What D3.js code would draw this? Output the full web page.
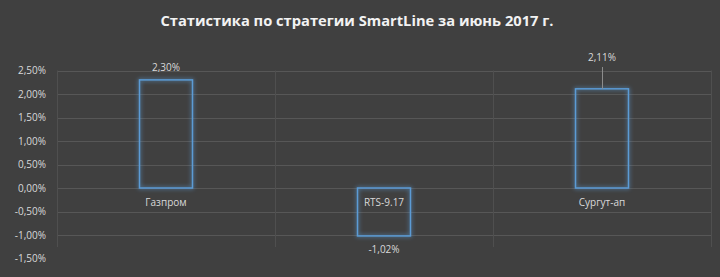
<!DOCTYPE html>
<html>
<head>
<meta charset="utf-8">
<script src="https://cdn.jsdelivr.net/npm/d3@7"></script>
<style>
  body { margin: 0; background: #404040; }
  svg { display: block; }
</style>
</head>
<body>
<div id="chart-area"></div>
<script>
var categories = ["Газпром", "RTS-9.17", "Сургут-ап"];
var values = [2.30, -1.02, 2.11];
var valueLabels = ["2,30%", "-1,02%", "2,11%"];
var yTicks = [2.5, 2.0, 1.5, 1.0, 0.5, 0.0, -0.5, -1.0, -1.5];
var yTickLabels = ["2,50%", "2,00%", "1,50%", "1,00%", "0,50%", "0,00%", "-0,50%", "-1,00%", "-1,50%"];

var width = 720;
var height = 277;
var plot = {left: 57, right: 711, top: 70.5, bottom: 247};

var svg = d3.select("#chart-area")
	.append("svg")
	.attr("width", width)
	.attr("height", height)
	.style("font-family", "'Open Sans', sans-serif");

svg.append("rect")
	.attr("width", width)
	.attr("height", height)
	.attr("fill", "#404040");

var defs = svg.append("defs");
var glow = defs.append("filter")
	.attr("id", "glow")
	.attr("x", "-30%").attr("y", "-30%")
	.attr("width", "160%").attr("height", "160%");
glow.append("feGaussianBlur")
	.attr("in", "SourceGraphic")
	.attr("stdDeviation", 2)
	.attr("result", "blur");
var merge = glow.append("feMerge");
merge.append("feMergeNode").attr("in", "blur");
merge.append("feMergeNode").attr("in", "SourceGraphic");

var x = d3.scaleBand()
	.domain(categories)
	.range([plot.left, plot.right])
	.paddingInner(0.757)
	.paddingOuter(0.3785);

var xOuter = d3.scaleBand()
	.domain(categories)
	.range([plot.left, plot.right])
	.padding(0);

var y = d3.scaleLinear()
	.domain([-1.5, 2.5])
	.range([258.5, 70.5]);

// title
svg.append("text")
	.attr("x", 357)
	.attr("y", 25.5)
	.attr("text-anchor", "middle")
	.attr("font-size", "14.7px")
	.attr("font-weight", "bold")
	.attr("fill", "#f2f2f2")
	.text("Статистика по стратегии SmartLine за июнь 2017 г.");

// horizontal gridlines
svg.append("g")
	.selectAll("line")
	.data(yTicks.filter(function(d) { return y(d) <= plot.bottom; }))
	.enter()
	.append("line")
	.attr("x1", plot.left)
	.attr("x2", plot.right)
	.attr("y1", function(d) { return Math.round(y(d)) + 0.5; })
	.attr("y2", function(d) { return Math.round(y(d)) + 0.5; })
	.attr("stroke", "#575757")
	.attr("stroke-width", 1);

// vertical gridlines at category boundaries
var bounds = categories.map(function(c) { return xOuter(c); }).concat([plot.right]);
svg.append("g")
	.selectAll("line")
	.data(bounds)
	.enter()
	.append("line")
	.attr("x1", function(d) { return Math.round(d) + 0.5; })
	.attr("x2", function(d) { return Math.round(d) + 0.5; })
	.attr("y1", plot.top)
	.attr("y2", plot.bottom)
	.attr("stroke", "#4f4f4f")
	.attr("stroke-width", 1);

// y axis labels
svg.append("g")
	.selectAll("text")
	.data(yTicks)
	.enter()
	.append("text")
	.attr("x", 46)
	.attr("y", function(d) { return y(d) + 3.5; })
	.attr("text-anchor", "end")
	.attr("font-size", "10px")
	.attr("fill", "#d9d9d9")
	.text(function(d, i) { return yTickLabels[i]; });

// bars
svg.append("g")
	.selectAll("rect")
	.data(values)
	.enter()
	.append("rect")
	.attr("x", function(d, i) { return x(categories[i]); })
	.attr("y", function(d) { return y(Math.max(0, d)); })
	.attr("width", x.bandwidth())
	.attr("height", function(d) { return Math.abs(y(d) - y(0)); })
	.attr("fill", "none")
	.attr("stroke", "#5b9bd5")
	.attr("stroke-width", 1.5)
	.attr("filter", "url(#glow)");

// category labels
svg.append("g")
	.selectAll("text")
	.data(categories)
	.enter()
	.append("text")
	.attr("x", function(d) { return x(d) + x.bandwidth() / 2; })
	.attr("y", 206)
	.attr("text-anchor", "middle")
	.attr("font-size", "10px")
	.attr("fill", "#d9d9d9")
	.text(function(d) { return d; });

// value labels
var labelY = [y(values[0]) - 9, y(values[1]) + 17, 61];
svg.append("g")
	.selectAll("text")
	.data(values)
	.enter()
	.append("text")
	.attr("x", function(d, i) { return x(categories[i]) + x.bandwidth() / 2; })
	.attr("y", function(d, i) { return labelY[i]; })
	.attr("text-anchor", "middle")
	.attr("font-size", "10px")
	.attr("fill", "#d9d9d9")
	.text(function(d, i) { return valueLabels[i]; });

// leader line for the third label
var cx = x(categories[2]) + x.bandwidth() / 2;
svg.append("line")
	.attr("x1", Math.round(cx) + 0.5)
	.attr("x2", Math.round(cx) + 0.5)
	.attr("y1", 67)
	.attr("y2", y(values[2]))
	.attr("stroke", "#8c8c8c")
	.attr("stroke-width", 1);
</script>
</body>
</html>
